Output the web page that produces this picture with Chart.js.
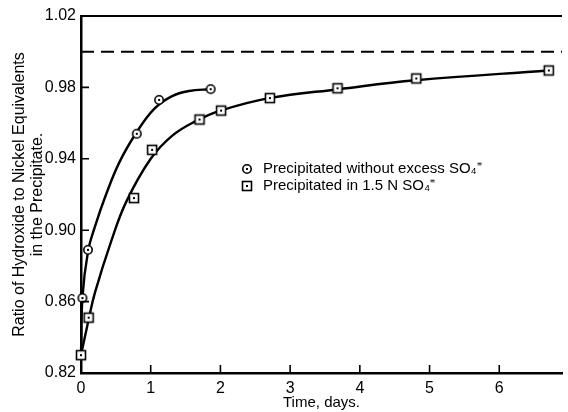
<!DOCTYPE html>
<html>
<head>
<meta charset="utf-8">
<script src="https://cdn.jsdelivr.net/npm/chart.js@4.4.0/dist/chart.umd.min.js"></script>
<style>
  html, body { margin: 0; padding: 0; background: #fff; }
  #chart { display: block; }
</style>
</head>
<body>
<canvas id="chart" width="568" height="412"></canvas>
<script>
// measured points (time in days, OH/Ni ratio)
const circleDays = [0.02, 0.10, 0.80, 1.12, 1.86];
const circleRatio = [0.862, 0.889, 0.954, 0.973, 0.979];
const squareDays = [0, 0.11, 0.76, 1.02, 1.70, 2.01, 2.71, 3.68, 4.81, 6.71];
const squareRatio = [0.830, 0.851, 0.918, 0.945, 0.962, 0.967, 0.974, 0.9795, 0.985, 0.9895];

// the drawn curves
const circleCurveDays = [0, 0.02, 0.10, 0.2, 0.35, 0.55, 0.8, 1.05, 1.3, 1.55, 1.86];
const circleCurveRatio = [0.830, 0.862, 0.888, 0.902, 0.919, 0.938, 0.955, 0.968, 0.975, 0.978, 0.979];
const squareCurveDays = [0, 0.11, 0.2, 0.435, 0.65, 1.0, 1.31, 1.64, 2.0, 2.7, 3.7, 4.8, 6.71];
const squareCurveRatio = [0.830, 0.850, 0.865, 0.894, 0.916, 0.940, 0.953, 0.961, 0.967, 0.974, 0.979, 0.984, 0.9895];

// dashed reference at 1.00
const refDays = [0, 6.9];
const refRatio = [1.0, 1.0];

const xTicks = [0, 1, 2, 3, 4, 5, 6];
const yTicks = [0.82, 0.86, 0.90, 0.94, 0.98, 1.02];

const legendLabels = ["Precipitated without excess SO\u2084\u207C", "Precipitated in 1.5 N SO\u2084\u207C"];

const FONT = "'Liberation Sans', Arial, sans-serif";

function pts(xs, ys) {
  return xs.map((x, i) => ({ x: x, y: ys[i] }));
}

function marker(kind) {
  const c = document.createElement("canvas");
  c.width = 14; c.height = 14;
  const g = c.getContext("2d");
  g.fillStyle = "#fff";
  g.strokeStyle = "#000";
  g.lineWidth = 1.6;
  if (kind === "circle") {
    g.beginPath();
    g.arc(7, 7, 4.2, 0, Math.PI * 2);
    g.fill();
    g.stroke();
  } else {
    g.fillRect(2.5, 2.5, 9, 9);
    g.strokeRect(2.5, 2.5, 9, 9);
  }
  g.fillStyle = "#000";
  g.fillRect(6, 6, 2, 2);
  return c;
}
const circleMark = marker("circle");
const squareMark = marker("square");

// inward ticks, top frame line and the in-plot legend
const frame = {
  id: "frame",
  afterDraw(chart) {
    const { ctx, chartArea: a, scales: { x, y } } = chart;
    ctx.save();
    ctx.strokeStyle = "#000";
    ctx.lineWidth = 2;
    ctx.beginPath();
    ctx.moveTo(a.left - 1, a.top);
    ctx.lineTo(a.right, a.top);
    ctx.stroke();

    ctx.lineWidth = 1.6;
    ctx.beginPath();
    xTicks.slice(1).forEach(v => {
      const px = x.getPixelForValue(v);
      ctx.moveTo(px, a.bottom);
      ctx.lineTo(px, a.bottom - 8);
    });
    yTicks.slice(1, -1).forEach(v => {
      const py = y.getPixelForValue(v);
      ctx.moveTo(a.left, py);
      ctx.lineTo(a.left + 8, py);
    });
    ctx.stroke();

    ctx.fillStyle = "#000";
    ctx.font = "15px " + FONT;
    ctx.textBaseline = "middle";
    ctx.drawImage(circleMark, 247 - 7, 169 - 7);
    ctx.fillText(legendLabels[0], 263, 169);
    ctx.drawImage(squareMark, 247 - 7, 186 - 7);
    ctx.fillText(legendLabels[1], 263, 186);
    ctx.restore();
  }
};

const curveStyle = {
  showLine: true,
  borderColor: "#000",
  borderWidth: 2.4,
  pointRadius: 0,
  tension: 0.4,
  clip: false,
  order: 1
};

new Chart(document.getElementById("chart"), {
  type: "scatter",
  data: {
    datasets: [
      {
        label: "circles",
        data: pts(circleDays, circleRatio),
        pointStyle: circleMark,
        pointRadius: 5,
        clip: false,
        order: 0
      },
      {
        label: "squares",
        data: pts(squareDays, squareRatio),
        pointStyle: squareMark,
        pointRadius: 5,
        clip: false,
        order: 0
      },
      Object.assign({ label: "circle curve", data: pts(circleCurveDays, circleCurveRatio) }, curveStyle),
      Object.assign({ label: "square curve", data: pts(squareCurveDays, squareCurveRatio) }, curveStyle),
      {
        label: "1.00",
        data: pts(refDays, refRatio),
        showLine: true,
        borderColor: "#000",
        borderWidth: 2,
        borderDash: [13, 7],
        pointRadius: 0,
        order: 2
      }
    ]
  },
  options: {
    responsive: false,
    animation: false,
    events: [],
    layout: { padding: { top: 16, right: 0, bottom: 0, left: 0 } },
    plugins: {
      legend: { display: false },
      tooltip: { enabled: false }
    },
    scales: {
      x: {
        type: "linear",
        min: 0,
        max: 6.9,
        afterBuildTicks: s => { s.ticks = xTicks.map(v => ({ value: v })); },
        afterFit: s => { s.height = 39; },
        grid: { drawOnChartArea: false, drawTicks: false },
        border: { color: "#000", width: 2.5 },
        ticks: {
          color: "#000",
          padding: 6,
          font: { family: FONT, size: 16 },
          callback: v => String(v)
        },
        title: {
          display: true,
          text: "Time, days.",
          color: "#000",
          font: { family: FONT, size: 15, lineHeight: 1.1 },
          padding: { top: 0, bottom: 1 }
        }
      },
      y: {
        min: 0.82,
        max: 1.02,
        afterBuildTicks: s => { s.ticks = yTicks.map(v => ({ value: v })); },
        afterFit: s => { s.width = 81; },
        grid: { drawOnChartArea: false, drawTicks: false },
        border: { color: "#000", width: 2.5 },
        ticks: {
          color: "#000",
          padding: 5,
          font: { family: FONT, size: 16 },
          callback: v => v.toFixed(2)
        },
        title: {
          display: true,
          text: ["Ratio of Hydroxide to Nickel Equivalents", "in the Precipitate."],
          color: "#000",
          font: { family: FONT, size: 16, lineHeight: 1.125 },
          padding: { top: 11, bottom: 0 }
        }
      }
    }
  },
  plugins: [frame]
});
</script>
</body>
</html>
